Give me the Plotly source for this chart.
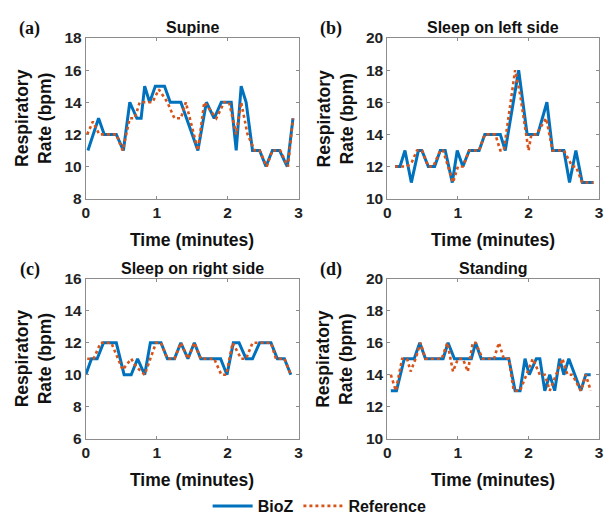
import plotly.graph_objects as go

# ---------------- data ----------------
titles = ["Supine", "Sleep on left side", "Sleep on right side", "Standing"]
panel_tags = ["(a)", "(b)", "(c)", "(d)"]
y_ranges = [[8, 18], [10, 20], [6, 16], [10, 20]]

# (a) Supine
a_bioz_t = [0.03, 0.18, 0.26, 0.43, 0.53, 0.62, 0.72, 0.78, 0.83, 0.90, 0.98, 1.11, 1.19, 1.34,
            1.58, 1.70, 1.81, 1.91, 2.05, 2.12, 2.19, 2.26, 2.35, 2.45, 2.54, 2.63, 2.73, 2.84, 2.92]
a_bioz_v = [11, 13, 12, 12, 11, 14, 13, 13, 15, 14, 15, 15, 14, 14,
            11, 14, 13, 14, 14, 11, 15, 14, 11, 11, 10, 11, 11, 10, 13]
a_ref_t = [0.02, 0.10, 0.19, 0.43, 0.52, 0.62, 0.69, 0.76, 0.94, 1.03, 1.15, 1.25, 1.34, 1.41,
           1.58, 1.67, 1.84, 1.95, 2.02, 2.12, 2.19, 2.28, 2.38, 2.45, 2.55, 2.63, 2.74, 2.85, 2.92]
a_ref_v = [12, 12.8, 12, 12, 11, 13, 13, 14, 14, 14.8, 14, 13, 13, 14,
           11, 14, 13, 14, 14, 12, 14, 12, 11, 11, 10, 11, 11, 10, 13]

# (b) Sleep on left side
b_bioz_t = [0.11, 0.18, 0.25, 0.34, 0.44, 0.49, 0.58, 0.67, 0.75, 0.82, 0.92, 0.99, 1.07, 1.16,
            1.30, 1.38, 1.60, 1.67, 1.86, 1.98, 2.13, 2.26, 2.34, 2.50, 2.58, 2.67, 2.76, 2.92]
b_bioz_v = [12, 12, 13, 11, 13, 13, 12, 12, 13, 13, 11, 13, 12, 13,
            13, 14, 14, 13, 18, 14, 14, 16, 13, 13, 11, 13, 11, 11]
b_ref_t = [0.11, 0.19, 0.28, 0.35, 0.42, 0.49, 0.58, 0.65, 0.75, 0.79, 0.93, 1.00, 1.07, 1.16,
           1.30, 1.38, 1.53, 1.60, 1.65, 1.81, 1.88, 2.00, 2.04, 2.11, 2.25, 2.34, 2.50, 2.62,
           2.67, 2.76, 2.92]
b_ref_v = [12, 12, 12, 12.3, 13, 13, 12, 12, 13, 13, 11, 12, 12, 13,
           13, 14, 14, 13, 13, 18, 16.5, 13, 14, 14, 15, 13, 13, 12,
           12, 11, 11]

# (c) Sleep on right side
c_bioz_t = [0.00, 0.08, 0.16, 0.25, 0.43, 0.54, 0.64, 0.73, 0.83, 0.91, 1.06, 1.15, 1.25, 1.34,
            1.44, 1.53, 1.62, 1.90, 1.99, 2.08, 2.16, 2.26, 2.35, 2.45, 2.61, 2.70, 2.80, 2.89]
c_bioz_v = [10, 11, 11, 12, 12, 10, 10, 11, 10, 12, 12, 11, 11, 12,
            11, 12, 11, 11, 10, 12, 12, 11, 11, 12, 12, 11, 11, 10]
c_ref_t = [0.02, 0.11, 0.21, 0.36, 0.52, 0.64, 0.71, 0.83, 0.99, 1.06, 1.15, 1.25, 1.34, 1.44,
           1.53, 1.62, 1.81, 1.91, 1.98, 2.07, 2.19, 2.26, 2.35, 2.42, 2.61, 2.68, 2.80, 2.89]
c_ref_v = [11, 11, 12, 12, 10.3, 11, 10.5, 10, 12, 12, 11, 11, 12, 11,
           12, 11, 11, 10, 10, 12, 11, 11, 12, 12, 12, 11, 11, 10]

# (d) Standing
d_bioz_t = [0.05, 0.13, 0.24, 0.38, 0.46, 0.54, 0.79, 0.86, 0.95, 1.19, 1.25, 1.33, 1.72, 1.81,
            1.88, 1.95, 2.01, 2.11, 2.16, 2.23, 2.30, 2.37, 2.44, 2.50, 2.57, 2.74, 2.81, 2.88]
d_bioz_v = [13, 13, 15, 15, 16, 15, 15, 16, 15, 15, 16, 15, 15, 13,
            13, 15, 14, 15, 15, 13, 14, 13, 15, 14, 15, 13, 14, 14]
d_ref_t = [0.05, 0.12, 0.21, 0.28, 0.33, 0.40, 0.47, 0.54, 0.77, 0.85, 0.93, 1.00, 1.07, 1.14,
           1.21, 1.25, 1.35, 1.51, 1.58, 1.65, 1.72, 1.79, 1.88, 1.97, 2.06, 2.16, 2.23, 2.30,
           2.39, 2.48, 2.55, 2.62, 2.74, 2.81, 2.88]
d_ref_v = [14, 13, 15, 15, 14.2, 15, 16, 15, 15, 16, 14.2, 15, 15, 14.2,
           16, 16, 15, 15, 16, 15, 15, 13, 13, 14, 15, 14, 14, 13,
           14, 15, 14, 14, 13, 14, 13]

x_ticks = [0, 1, 2, 3]
series = [
    (a_bioz_t, a_bioz_v, a_ref_t, a_ref_v),
    (b_bioz_t, b_bioz_v, b_ref_t, b_ref_v),
    (c_bioz_t, c_bioz_v, c_ref_t, c_ref_v),
    (d_bioz_t, d_bioz_v, d_ref_t, d_ref_v),
]

# ---------------- layout geometry ----------------
W, H = 616, 523
FONT = "Liberation Sans, Arial, sans-serif"
BLUE = "#0072BD"
ORANGE = "#D95319"
AXC = "#8c8c8c"

# plot areas in pixels: (left, right, top, bottom)
boxes = [(83, 299, 30, 196), (389, 604, 30, 196), (83, 299, 279, 444), (389, 604, 279, 444)]

fig = go.Figure()
layout = dict(
    width=W, height=H, margin=dict(l=0, r=0, t=0, b=0),
    paper_bgcolor="white", plot_bgcolor="white",
    font=dict(family=FONT, size=15, color="#222222", weight="bold"),
    showlegend=True,
    legend=dict(orientation="h", x=0.52, xanchor="center", y=1 - 514 / H, yanchor="middle",
                font=dict(family=FONT, size=16, color="#111111", weight="bold"),
                itemwidth=40, tracegroupgap=0, bgcolor="rgba(0,0,0,0)"),
)
annotations = []

for i, (bt, bv, rt, rv) in enumerate(series):
    n = i + 1
    xa = "x" if n == 1 else f"x{n}"
    ya = "y" if n == 1 else f"y{n}"
    l, r, t, b = boxes[i]
    fig.add_trace(go.Scatter(x=bt, y=bv, mode="lines", name="BioZ", xaxis=xa, yaxis=ya,
                             line=dict(color=BLUE, width=3), showlegend=(i == 0), legendgroup="bioz"))
    fig.add_trace(go.Scatter(x=rt, y=rv, mode="lines", name="Reference", xaxis=xa, yaxis=ya,
                             line=dict(color=ORANGE, width=2.6, dash="dot"), showlegend=(i == 0),
                             legendgroup="ref"))
    axis_common = dict(showline=True, linecolor=AXC, linewidth=1, mirror="ticks", ticks="inside",
                       ticklen=3, tickcolor=AXC, showgrid=False, zeroline=False,
                       tickfont=dict(family=FONT, size=15.5, color="#222222", weight="bold"))
    xk = "xaxis" if n == 1 else f"xaxis{n}"
    yk = "yaxis" if n == 1 else f"yaxis{n}"
    layout[xk] = dict(domain=[l / W, r / W], range=[0, 3], tickvals=x_ticks, anchor=ya, **axis_common)
    layout[yk] = dict(domain=[1 - b / H, 1 - t / H], range=y_ranges[i], dtick=2, anchor=xa, **axis_common)

    cx = (l + r) / 2
    # subplot title
    annotations.append(dict(text=titles[i], x=cx / W, y=1 - (t - 11) / H, xref="paper", yref="paper",
                            showarrow=False, xanchor="center", yanchor="middle",
                            font=dict(family=FONT, size=16, color="#111111", weight="bold")))
    # panel tag
    annotations.append(dict(text=panel_tags[i], x=(l - 57) / W, y=1 - (t - 10) / H, xref="paper", yref="paper",
                            showarrow=False, xanchor="center", yanchor="middle",
                            font=dict(family="Liberation Serif, Times New Roman, serif", size=18,
                                      color="#111111", weight="bold")))
    # x-axis title
    annotations.append(dict(text="Time (minutes)", x=cx / W, y=1 - (b + 43) / H, xref="paper", yref="paper",
                            showarrow=False, xanchor="center", yanchor="middle",
                            font=dict(family=FONT, size=17.5, color="#111111", weight="bold")))
    # y-axis title (two lines, rotated)
    annotations.append(dict(text="Respiratory<br>Rate (bpm)", x=(l - 53) / W, y=1 - ((t + b) / 2) / H,
                            xref="paper", yref="paper", showarrow=False, textangle=-90,
                            xanchor="center", yanchor="middle",
                            font=dict(family=FONT, size=17.5, color="#111111", weight="bold")))

layout["annotations"] = annotations
fig.update_layout(**layout)
fig.write_html("out.html")
